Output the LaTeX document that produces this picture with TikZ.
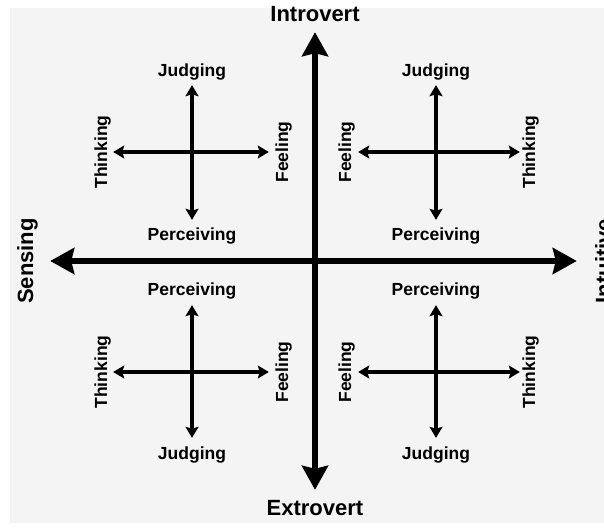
\documentclass[tikz,border=0pt]{standalone}
\usepackage{fontspec}
\setmainfont{Liberation Sans}
\usetikzlibrary{arrows.meta}
\definecolor{paper}{HTML}{F4F4F4}

\begin{document}
\begin{tikzpicture}[x=1pt,y=-1pt,
    axis/.style={line width=5.5pt,
      {Stealth[length=24pt,width=26pt,inset=3pt]}-{Stealth[length=24pt,width=26pt,inset=3pt]}},
    pair/.style={line width=3.2pt,
      {Stealth[length=11pt,width=13pt,inset=2pt]}-{Stealth[length=11pt,width=13pt,inset=2pt]}},
    big/.style={font=\fontsize{22}{26}\selectfont\bfseries, inner sep=2pt,
      text height=16pt, text depth=5pt, anchor=base},
    small/.style={font=\fontsize{17.5}{21}\selectfont\bfseries, inner sep=2pt,
      text height=13pt, text depth=4pt, anchor=base}]
  \useasboundingbox (0,0) rectangle (604,527);
  \fill[paper] (10,8) rectangle (604,523);

  % main axes
  \node[big] (intro) at (315,22) {Introvert};
  \node[big] (extro) at (315,515) {Extrovert};
  \node[big,rotate=90] (sens) at (33,261) {Sensing};
  \node[big,rotate=90] (intu) at (611,261) {Intuitive};
  \draw[axis, shorten <=3pt, shorten >=7pt] (intro) -- (extro);
  \draw[axis, shorten <=10pt, shorten >=16pt] (sens) -- (intu);

  % top left
  \node[small] (tlJ) at (192,76) {Judging};
  \node[small] (tlP) at (192,240) {Perceiving};
  \node[small,rotate=90] (tlT) at (107,152) {Thinking};
  \node[small,rotate=90] (tlF) at (288,152) {Feeling};
  \draw[pair, shorten <=3pt, shorten >=5pt] (tlJ) -- (tlP);
  \draw[pair, shorten >=4pt] (tlT) -- (tlF);

  % top right
  \node[small] (trJ) at (436,76) {Judging};
  \node[small] (trP) at (436,240) {Perceiving};
  \node[small,rotate=90] (trF) at (351,152) {Feeling};
  \node[small,rotate=90] (trT) at (535,152) {Thinking};
  \draw[pair, shorten <=3pt, shorten >=5pt] (trJ) -- (trP);
  \draw[pair, shorten <=1pt] (trF) -- (trT);

  % bottom left
  \node[small] (blP) at (192,295) {Perceiving};
  \node[small] (blJ) at (192,459) {Judging};
  \node[small,rotate=90] (blT) at (107,372) {Thinking};
  \node[small,rotate=90] (blF) at (288,372) {Feeling};
  \draw[pair, shorten <=4pt, shorten >=6pt] (blP) -- (blJ);
  \draw[pair, shorten >=4pt] (blT) -- (blF);

  % bottom right
  \node[small] (brP) at (436,295) {Perceiving};
  \node[small] (brJ) at (436,459) {Judging};
  \node[small,rotate=90] (brF) at (351,372) {Feeling};
  \node[small,rotate=90] (brT) at (535,372) {Thinking};
  \draw[pair, shorten <=4pt, shorten >=6pt] (brP) -- (brJ);
  \draw[pair, shorten <=1pt] (brF) -- (brT);
\end{tikzpicture}
\end{document}
